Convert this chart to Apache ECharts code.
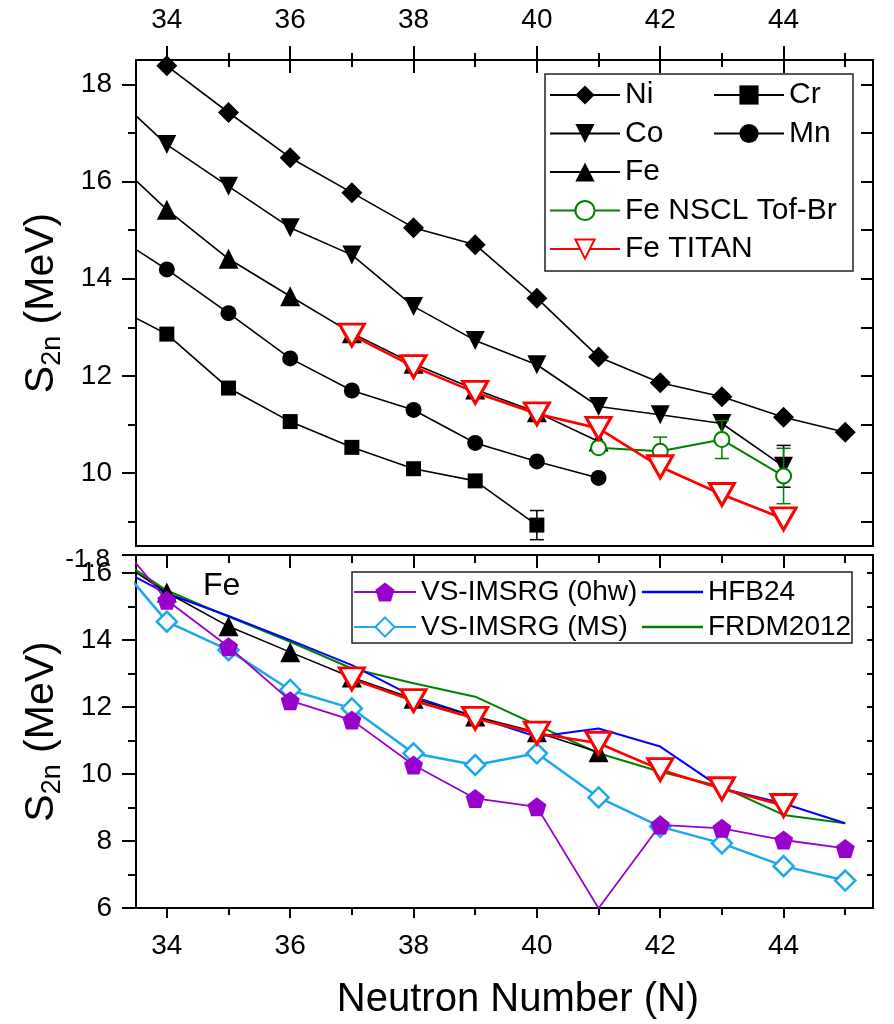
<!DOCTYPE html>
<html><head><meta charset="utf-8">
<script src="https://cdn.jsdelivr.net/npm/echarts@6/dist/echarts.min.js"></script>
<style>html,body{margin:0;padding:0;background:#fff}#c{width:894px;height:1024px}</style>
</head><body><div id="c"></div>
<script>
// Neutron numbers
const Ns = [33,34,35,36,37,38,39,40,41,42,43,44,45];
// Top panel: S2n (MeV)
const ni      = [null,18.38,17.42,16.49,15.77,15.05,14.70,13.60,12.39,11.86,11.57,11.15,10.84];
const co      = [17.94,16.76,15.90,15.05,14.49,13.43,12.73,12.23,11.37,11.20,11.02,10.14,null];
const fe      = [16.62,15.42,14.41,13.64,12.88,12.25,11.72,11.25,10.65,null,null,null,null];
const cr      = [13.52,12.86,11.75,11.06,10.53,10.09,9.84,8.93,null,null,null,null,null];
const mn      = [15.01,14.19,13.29,12.36,11.70,11.30,10.62,10.24,9.90,null,null,null,null];
const feNscl  = [null,null,null,null,null,null,null,null,10.52,10.45,10.69,9.94,null];
const feTitan = [null,null,null,null,12.84,12.19,11.66,11.22,10.92,10.13,9.56,9.06,null];
// error bars
const crErr   = [null,null,null,null,null,null,null,0.30,null,null,null,null,null];
const coErr   = [null,null,null,null,null,null,null,null,null,null,null,0.43,null];
const nsclErr = [null,null,null,null,null,null,null,null,null,0.29,0.39,0.57,null];
// Bottom panel: theory
const vs0hw   = [17.39,15.19,13.80,12.19,11.61,10.27,9.27,9.02,5.99,8.48,8.38,8.03,7.78];
const vsMs    = [16.73,14.55,13.70,12.51,11.96,10.62,10.27,10.62,9.30,8.43,7.93,7.25,6.82];
const hfb24   = [16.35,15.39,14.72,14.00,13.25,12.31,11.71,11.11,11.36,10.82,9.57,9.12,8.53];
const frdm    = [16.70,15.48,14.70,13.95,13.15,12.71,12.31,11.46,10.62,10.07,9.62,8.78,8.53];
// ticks
const evenX = [34,36,38,40,42,44];
const oddX  = [35,37,39,41,43,45];
const topYLabels = [10,12,14,16,18];
const topYMinor  = [9,11,13,15,17];
const topYAll    = [9,10,11,12,13,14,15,16,17,18];
const botYLabels = [6,8,10,12,14,16];
const botYMinor  = [7,9,11,13,15];
const botYAll    = [7,8,9,10,11,12,13,14,15,16];

const FONT = 'Liberation Sans, Arial, sans-serif';
const pairs = v => Ns.map((n,i)=>v[i]==null?null:[n,v[i]]).filter(p=>p);
const errPairs = (v,e) => Ns.map((n,i)=>e[i]==null?null:[n,v[i],e[i]]).filter(p=>p);

const X0 = {min:33.5,max:45.45}, Y0={min:8.5,max:18.5}, Y1={min:6,max:16.54};
function xa(grid,pos,ticks,len,inside,labels,lw){
  return Object.assign({type:'value',gridIndex:grid,position:pos,
    axisLine:{show:true,onZero:false,lineStyle:{color:'#000',width:2}},
    axisTick:{show:!!ticks,customValues:ticks||[],length:len||0,inside:!!inside,lineStyle:{color:'#000',width:lw||2}},
    axisLabel:labels?{show:true,customValues:ticks,fontSize:28,color:'#000',fontFamily:FONT,margin:labels}:{show:false},
    splitLine:{show:false}},X0);
}
function ya(grid,pos,ticks,len,inside,labels,range,lw){
  return Object.assign({type:'value',gridIndex:grid,position:pos,
    axisLine:{show:true,onZero:false,lineStyle:{color:'#000',width:2}},
    axisTick:{show:true,customValues:ticks,length:len,inside:!!inside,lineStyle:{color:'#000',width:lw||2}},
    axisLabel:labels?{show:true,customValues:labels,fontSize:28,color:'#000',fontFamily:FONT,margin:24}:{show:false},
    splitLine:{show:false}},range);
}
const yName = {
  name:'{a|S}{b|2n}{a| (MeV)}', nameLocation:'middle', nameRotate:90, nameGap:70,
  nameTextStyle:{color:'#000',fontFamily:FONT,rich:{
    a:{fontSize:41,fontFamily:FONT,color:'#000',lineHeight:48},
    b:{fontSize:27,fontFamily:FONT,color:'#000',lineHeight:27,verticalAlign:'bottom'}}}
};

const xAxis = [
  xa(0,'top',evenX,14,false,26),
  xa(0,'top',evenX,13,true),
  xa(0,'top',oddX,7,false),
  xa(0,'top',oddX,7,true),
  xa(0,'bottom',null),
  xa(1,'bottom',evenX,10,false,24),
  xa(1,'bottom',oddX,7,false),
  xa(1,'top',evenX,13,true),
  xa(1,'top',oddX,8,true)
];
const yAxis = [
  Object.assign(ya(0,'left',topYLabels,14,false,topYLabels,Y0),yName),
  ya(0,'left',topYMinor,8,false,null,Y0),
  ya(0,'right',topYAll,12,true,null,Y0),
  Object.assign(ya(1,'left',botYLabels.concat([16.54]),14,false,botYLabels,Y1),yName),
  ya(1,'left',botYMinor,8,false,null,Y1),
  ya(1,'right',botYAll,6,true,null,Y1)
];

function line(name,data,xi,yi,o){
  return Object.assign({type:'line',name,data:pairs(data),xAxisIndex:xi,yAxisIndex:yi,
    clip:true,showSymbol:true,z:3},o);
}
function black(name,data,xi,yi,sym,size,rot){
  return line(name,data,xi,yi,{symbol:sym,symbolSize:size,symbolRotate:rot||0,color:'#000',
    itemStyle:{color:'#000'},lineStyle:{color:'#000',width:1.6}});
}
function err(data,e,color,xi,yi){
  return {type:'custom',xAxisIndex:xi,yAxisIndex:yi,data:errPairs(data,e),clip:true,z:4,
    encode:{x:0,y:1},
    renderItem:function(params,api){
      const x=api.value(0),y=api.value(1),d=api.value(2);
      const p1=api.coord([x,y+d]),p2=api.coord([x,y-d]);const w=7;
      const st={stroke:color,lineWidth:1.5};
      return {type:'group',children:[
        {type:'line',shape:{x1:p1[0],y1:p1[1],x2:p2[0],y2:p2[1]},style:st},
        {type:'line',shape:{x1:p1[0]-w,y1:p1[1],x2:p1[0]+w,y2:p1[1]},style:st},
        {type:'line',shape:{x1:p2[0]-w,y1:p2[1],x2:p2[0]+w,y2:p2[1]},style:st}]};
    }};
}
const pent='path://M0,-1 L0.951,-0.309 L0.588,0.809 L-0.588,0.809 L-0.951,-0.309 Z';
const titanStyle = {symbol:'triangle',symbolRotate:180,symbolSize:[25,22],color:'#ff0000',
  itemStyle:{color:'#fff',borderColor:'#ff0000',borderWidth:3},lineStyle:{color:'#ff0000',width:2.6},z:6};

const series = [
  black('Ni',ni,0,0,'diamond',21),
  black('Co',co,0,0,'triangle',19,180),
  black('Fe',fe,0,0,'triangle',20),
  black('Cr',cr,0,0,'rect',15),
  black('Mn',mn,0,0,'circle',16),
  err(cr,crErr,'#000',0,0),
  err(co,coErr,'#000',0,0),
  line('Fe NSCL Tof-Br',feNscl,0,0,{symbol:'circle',symbolSize:15,color:'#008000',
    itemStyle:{color:'#fff',borderColor:'#008000',borderWidth:2},lineStyle:{color:'#008000',width:2},z:5}),
  err(feNscl,nsclErr,'#008000',0,0),
  line('Fe TITAN',feTitan,0,0,titanStyle),
  // bottom panel
  line('FRDM2012',frdm,5,3,{symbol:'none',color:'#008000',lineStyle:{color:'#008000',width:2}}),
  line('HFB24',hfb24,5,3,{symbol:'none',color:'#0000ff',lineStyle:{color:'#0000ff',width:2}}),
  black('Fe_b',fe,5,3,'triangle',20),
  line('VS-IMSRG (MS)',vsMs,5,3,{symbol:'diamond',symbolSize:20,color:'#1aa8ee',
    itemStyle:{color:'#fff',borderColor:'#1aa8ee',borderWidth:2.5},lineStyle:{color:'#1aa8ee',width:2.5},z:4}),
  line('VS-IMSRG (0hw)',vs0hw,5,3,{symbol:pent,symbolSize:19,color:'#9900cc',
    itemStyle:{color:'#9900cc'},lineStyle:{color:'#9900cc',width:1.8},z:5}),
  line('TITAN_b',feTitan,5,3,titanStyle)
];

const ltTop = {color:'#000',fontSize:30,fontFamily:FONT};
const ltBot = {color:'#000',fontSize:28,fontFamily:FONT};
const legend = [
  {data:['Ni','Co','Fe','Fe NSCL Tof-Br','Fe TITAN'],orient:'vertical',left:549,top:80,padding:0,
    itemWidth:70,itemHeight:24,itemGap:8.5,textStyle:ltTop,selectedMode:false},
  {data:['Cr','Mn'],orient:'vertical',left:713,top:80,padding:0,
    itemWidth:70,itemHeight:24,itemGap:8.5,textStyle:ltTop,selectedMode:false},
  {data:['VS-IMSRG (0hw)','VS-IMSRG (MS)'],orient:'vertical',left:353,top:578,padding:0,
    itemWidth:62,itemHeight:24,itemGap:7,textStyle:ltBot,selectedMode:false},
  {data:['HFB24','FRDM2012'],orient:'vertical',left:642,top:578,padding:0,icon:'rect',
    itemWidth:61,itemHeight:2.5,itemGap:7,textStyle:ltBot,selectedMode:false}
];

const chart = echarts.init(document.getElementById('c'),null,{renderer:'canvas'});
chart.setOption({
  animation:false,
  backgroundColor:'#fff',
  grid:[{left:136,top:60,width:737,height:486},{left:136,top:555,width:737,height:353}],
  xAxis, yAxis, series, legend,
  graphic:[
    {type:'rect',shape:{x:545,y:74,width:308,height:197},style:{fill:'none',stroke:'#222',lineWidth:1.5},z:1},
    {type:'rect',shape:{x:352,y:572,width:500,height:71},style:{fill:'none',stroke:'#222',lineWidth:1.5},z:1},
    {type:'text',left:203,top:570,style:{text:'Fe',fontSize:32,fontFamily:FONT,fill:'#000'}},
    {type:'text',x:110,y:560,style:{text:'-1.8',fontSize:26,fontFamily:FONT,fill:'#000',align:'right',verticalAlign:'middle'}},
    {type:'text',x:518,y:1000,style:{text:'Neutron Number (N)',fontSize:40,fontFamily:FONT,fill:'#000',align:'center',verticalAlign:'middle'}}
  ]
});
</script></body></html>
